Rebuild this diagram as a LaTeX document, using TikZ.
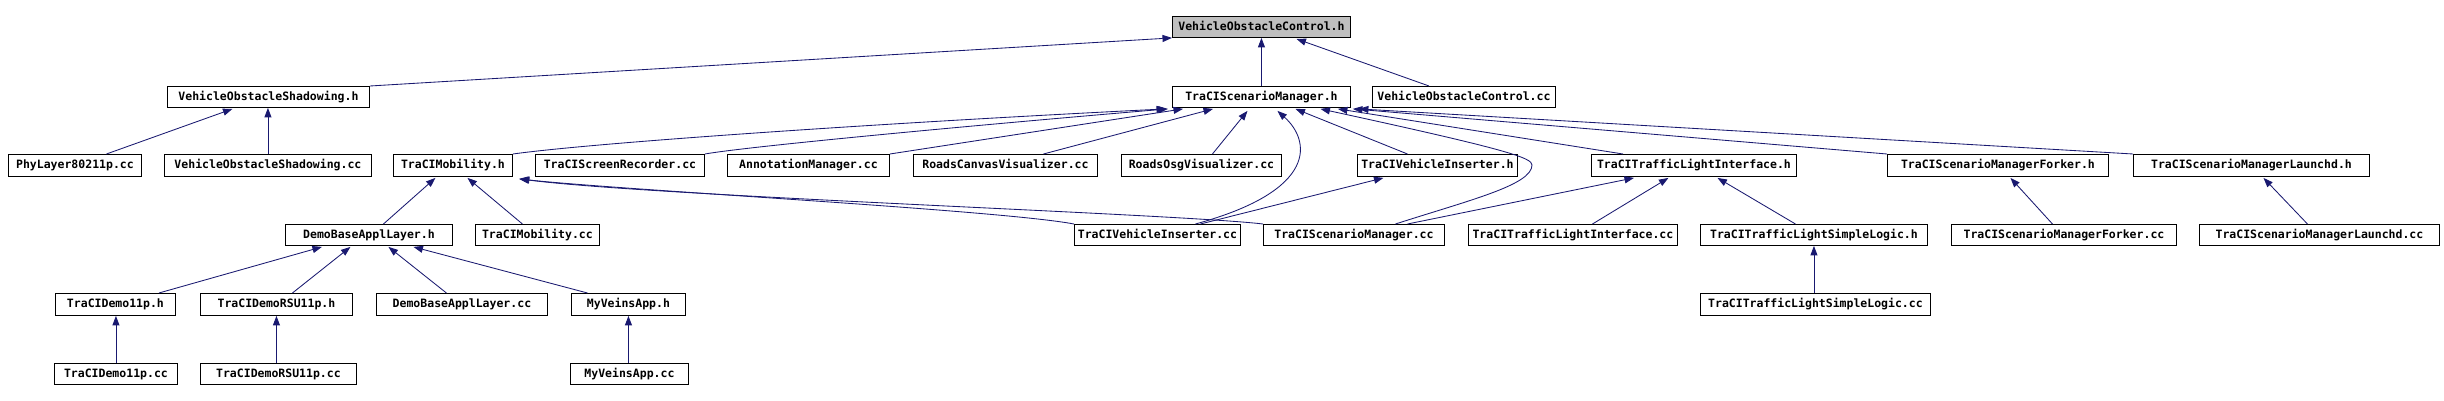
\documentclass[tikz,border=0pt]{standalone}
\usepackage{fontspec}
\newfontfamily\dfont{DejaVu Sans Mono}
\usetikzlibrary{arrows.meta,calc}
\definecolor{edgec}{RGB}{25,25,112}
\definecolor{rootc}{RGB}{191,191,191}
\newcommand\mknode[7][]{%
  \pgfmathsetmacro\mkw{#5-#3}%
  \pgfmathsetmacro\mkh{#6-#4}%
  \node[box,#1,minimum width=\mkw pt,minimum height=\mkh pt] (#2) at (#3,#4) {#7\hspace{8pt}};}
\begin{document}
\begin{tikzpicture}[x=1pt,y=-1pt,
  box/.style={draw=black,line width=0.9pt,fill=white,anchor=north west,inner sep=0pt,
    text height=8.5pt,text depth=2.2pt,font=\dfont\bfseries\fontsize{11.5}{13}\selectfont},
  edge/.style={draw=edgec,line width=0.85pt,-{Triangle[length=9.5pt,width=7pt]}}]
\useasboundingbox (0,0) rectangle (2444,401);
% row 1
\mknode[fill=rootc]{voch}{1172}{16}{1350}{37}{VehicleObstacleControl.h}
% row 2
\mknode{vosh}{167}{86}{369}{107}{VehicleObstacleShadowing.h}
\mknode{tsmh}{1172}{86}{1350}{107}{TraCIScenarioManager.h}
\mknode{vocc}{1372}{86}{1555}{107}{VehicleObstacleControl.cc}
% row 3
\mknode{phy}{8}{154}{141}{176}{PhyLayer80211p.cc}
\mknode{vosc}{164}{154}{371}{176}{VehicleObstacleShadowing.cc}
\mknode{tmh}{393}{154}{512}{176}{TraCIMobility.h}
\mknode{tsr}{535}{154}{704}{176}{TraCIScreenRecorder.cc}
\mknode{ann}{727}{154}{889}{176}{AnnotationManager.cc}
\mknode{rcv}{913}{154}{1097}{176}{RoadsCanvasVisualizer.cc}
\mknode{rov}{1121}{154}{1281}{176}{RoadsOsgVisualizer.cc}
\mknode{tvih}{1357}{154}{1517}{176}{TraCIVehicleInserter.h}
\mknode{tlih}{1591}{154}{1796}{176}{TraCITrafficLightInterface.h}
\mknode{tsmfh}{1887}{154}{2108}{176}{TraCIScenarioManagerForker.h}
\mknode{tsmlh}{2133}{154}{2369}{176}{TraCIScenarioManagerLaunchd.h}
% row 4
\mknode{dbah}{285}{224}{452}{245}{DemoBaseApplLayer.h}
\mknode{tmc}{475}{224}{599}{245}{TraCIMobility.cc}
\mknode{tvic}{1074}{224}{1240}{245}{TraCIVehicleInserter.cc}
\mknode{tsmc}{1263}{224}{1444}{245}{TraCIScenarioManager.cc}
\mknode{tlic}{1468}{224}{1677}{245}{TraCITrafficLightInterface.cc}
\mknode{tlsh}{1700}{224}{1927}{245}{TraCITrafficLightSimpleLogic.h}
\mknode{tsmfc}{1951}{224}{2176}{245}{TraCIScenarioManagerForker.cc}
\mknode{tsmlc}{2199}{224}{2439}{245}{TraCIScenarioManagerLaunchd.cc}
% row 5
\mknode{td11h}{55}{293}{175}{315}{TraCIDemo11p.h}
\mknode{trsuh}{200}{293}{352}{315}{TraCIDemoRSU11p.h}
\mknode{dbac}{376}{293}{547}{315}{DemoBaseApplLayer.cc}
\mknode{mvh}{571}{293}{685}{315}{MyVeinsApp.h}
\mknode{tlsc}{1700}{293}{1930}{315}{TraCITrafficLightSimpleLogic.cc}
% row 6
\mknode{td11c}{54}{363}{177}{384}{TraCIDemo11p.cc}
\mknode{trsuc}{200}{363}{356}{384}{TraCIDemoRSU11p.cc}
\mknode{mvc}{570}{363}{688}{384}{MyVeinsApp.cc}
% edges into VehicleObstacleControl.h
\draw[edge] (vosh.north east) -- (voch.south west);
\draw[edge] (tsmh.north) -- (voch.south);
\draw[edge] ($(vocc.north west)+(57,0)$) -- ($(voch.south)+(35,1)$);
% edges into VehicleObstacleShadowing.h
\draw[edge] ($(phy.north)+(31.5,0)$) -- ($(vosh.south)+(-36,1)$);
\draw[edge] (vosc.north) -- (vosc.north |- vosh.south);
% edges into TraCIScenarioManager.h
\draw[edge] (tmh.north east) .. controls (600,142) and (900,122) .. ($(tsmh.south west)+(-6,1)$);
\draw[edge] (tsr.north east) .. controls (750,146) and (1000,123) .. ($(tsmh.south west)+(-4,1)$);
\draw[edge] (ann.north east) -- ($(tsmh.south west)+(11,1)$);
\draw[edge] ($(rcv.north)+(38,0)$) -- ($(tsmh.south west)+(41,1)$);
\draw[edge] ($(rov.north)+(11,0)$) -- ($(tsmh.south)+(-14,3)$);
\draw[edge] ($(tvic.north)+(38,0)$) .. controls (1320,190) and (1310,140) .. ($(tsmh.south)+(16,3)$);
\draw[edge] ($(tvih.north)+(-30,0)$) -- ($(tsmh.south)+(34,1)$);
\coordinate (bend) at (1532,165);
\draw[edge] ($(tsmc.north)+(41.5,0)$) .. controls (1470,200) and (1532,185) .. (bend)
  .. controls (1532,158) and (1510,150) .. ($(tsmh.south)+(59,1)$);
\draw[edge] ($(tlih.north west)+(32,0)$) -- ($(tsmh.south east)+(-13,1)$);
\draw[edge] (tsmfh.north west) -- ($(tsmh.south east)+(2,1)$);
\draw[edge] (tsmlh.north west) -- ($(tsmh.south east)+(8,1)$);
% edges into TraCIMobility.h
\draw[edge] ($(dbah.north)+(14.5,0)$) -- ($(tmh.south)+(-17.5,1)$);
\draw[edge] ($(tmc.north)+(-15,0)$) -- ($(tmh.south)+(14.5,1)$);
\draw[edge] (tvic.north west) .. controls (1000,210) and (620,190) .. ($(tmh.south east)+(6,2)$);
\draw[edge] (tsmc.north west) .. controls (1180,214) and (650,196) .. ($(tmh.south east)+(7,2)$);
% edges into DemoBaseApplLayer.h
\draw[edge] ($(td11h.north)+(43.5,0)$) -- ($(dbah.south)+(-47,1)$);
\draw[edge] ($(trsuh.north)+(16,0)$) -- ($(dbah.south)+(-18.5,1)$);
\draw[edge] ($(dbac.north)+(-15.5,0)$) -- ($(dbah.south)+(19.5,1)$);
\draw[edge] ($(mvh.north)+(-41,0)$) -- ($(dbah.south)+(44.5,1)$);
% verticals
\draw[edge] (td11c.north) -- (td11c.north |- td11h.south);
\draw[edge] (trsuh.south |- trsuc.north) -- (trsuh.south);
\draw[edge] (mvh.south |- mvc.north) -- (mvh.south);
\draw[edge] (tlsh.south |- tlsc.north) -- (tlsh.south);
% others
\draw[edge] ($(tvic.north)+(43,0)$) -- ($(tvih.south)+(-54,1)$);
\draw[edge] ($(tsmc.north)+(53.5,0)$) -- ($(tlih.south west)+(43,1)$);
\draw[edge] ($(tlic.north)+(19.5,0)$) -- ($(tlih.south)+(-25.5,1)$);
\draw[edge] ($(tlsh.north)+(-18.5,0)$) -- ($(tlih.south)+(23.5,1)$);
\draw[edge] ($(tsmfc.north)+(-11.5,0)$) -- ($(tsmfh.south)+(12.5,1)$);
\draw[edge] ($(tsmlc.north)+(-12,0)$) -- ($(tsmlh.south)+(12,1)$);
\end{tikzpicture}
\end{document}
